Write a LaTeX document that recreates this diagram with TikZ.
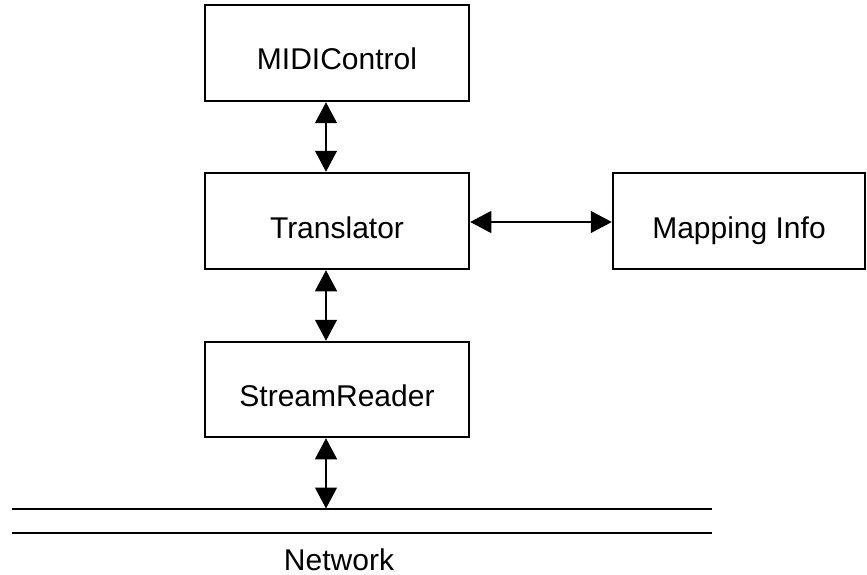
\documentclass[tikz,border=0pt]{standalone}
\usepackage{fontspec}
\setmainfont{Liberation Sans}
\usetikzlibrary{arrows.meta}
\begin{document}
\begin{tikzpicture}[x=1pt,y=-1pt,
  box/.style={draw,line width=1.5pt,inner sep=0pt,minimum width=264pt,minimum height=96pt,
    text height=56pt,text depth=22pt,font=\fontsize{30}{36}\selectfont},
  dbl/.style={line width=1.2pt,{Triangle[length=21pt,width=22pt]}-{Triangle[length=21pt,width=22pt]},shorten <=0.5pt,shorten >=0.5pt},
  netline/.style={line width=1.5pt}]
\useasboundingbox (0,0) rectangle (867,575);
\node[box] (midi) at (337,53) {MIDIControl};
\node[box] (trans) at (337,221) {Translator};
\node[box,minimum width=252pt] (map) at (739,221) {Mapping Info};
\node[box,minimum height=95pt] (stream) at (337,389.5) {StreamReader};
\coordinate (ax) at (326,0);
\coordinate (netAL) at (12,509);
\coordinate (netAR) at (712,509);
\coordinate (netBL) at (12,533);
\coordinate (netBR) at (712,533);
\draw[netline] (netAL) -- (netAR);
\draw[netline] (netBL) -- (netBR);
\node[anchor=base,inner sep=0pt,font=\fontsize{30}{36}\selectfont] (net) at (339,570) {Network};
\draw[dbl] (midi.south -| ax) -- (trans.north -| ax);
\draw[dbl] (trans.south -| ax) -- (stream.north -| ax);
\draw[dbl] (stream.south -| ax) -- (netAL -| ax);
\draw[dbl] (trans.east |- 0,222) -- (map.west |- 0,222);
\end{tikzpicture}
\end{document}
